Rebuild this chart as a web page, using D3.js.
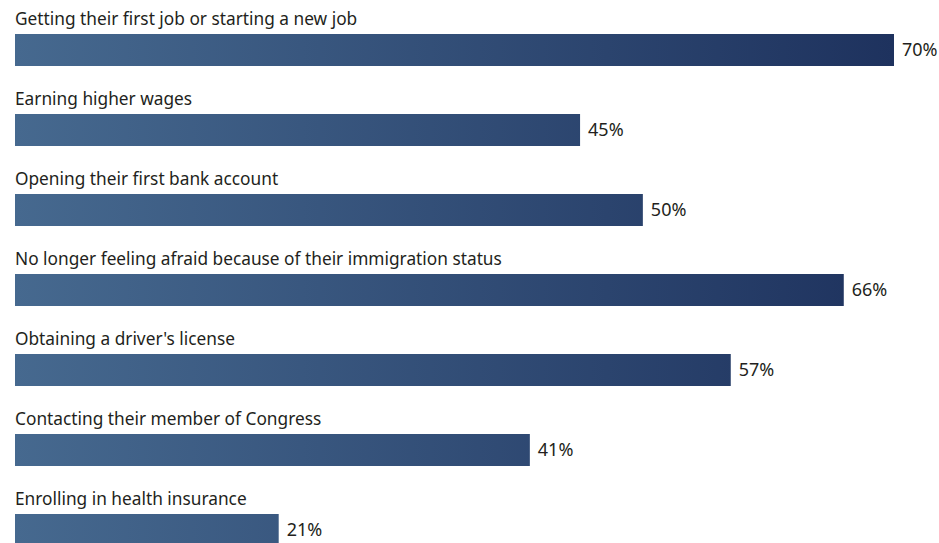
<!DOCTYPE html>
<html>
<head>
<meta charset="utf-8">
<script src="https://cdn.jsdelivr.net/npm/d3@7"></script>
<style>
  body { margin: 0; background: #fff; }
  svg text { font-family: "Noto Sans", sans-serif; fill: #231f20; }
</style>
</head>
<body>
<div id="canvas"></div>
<script>
var categories = [
  "Getting their first job or starting a new job",
  "Earning higher wages",
  "Opening their first bank account",
  "No longer feeling afraid because of their immigration status",
  "Obtaining a driver's license",
  "Contacting their member of Congress",
  "Enrolling in health insurance"
];
var values = [70, 45, 50, 66, 57, 41, 21];

var width = 939;
var height = 543;

var svg = d3.select("#canvas").append("svg")
  .attr("width", width)
  .attr("height", height);

// x scale: 0 at left edge of bars, 70 at right end of first bar
var x = d3.scaleLinear().domain([0, 70]).range([15, 894]);
// each row is 80px tall, bar sits 34px below the row top
var y = d3.scaleBand().domain(categories).range([0, 560]).paddingInner(0).paddingOuter(0);

var grad = svg.append("defs").append("linearGradient")
  .attr("id", "barGrad")
  .attr("gradientUnits", "userSpaceOnUse")
  .attr("x1", x(0)).attr("x2", x(70))
  .attr("y1", 0).attr("y2", 0);
grad.append("stop").attr("offset", "0%").attr("stop-color", "#46698f");
grad.append("stop").attr("offset", "100%").attr("stop-color", "#1e325e");

var rows = svg.selectAll("g.row")
  .data(categories)
  .enter().append("g")
  .attr("class", "row")
  .attr("transform", function(d) { return "translate(0," + y(d) + ")"; });

rows.append("text")
  .attr("x", 15)
  .attr("y", 25)
  .style("font-size", "17.3px")
  .text(function(d) { return d; });

rows.append("rect")
  .attr("x", x(0))
  .attr("y", 34)
  .attr("height", 32)
  .attr("width", function(d, i) { return x(values[i]) - x(0); })
  .attr("fill", "url(#barGrad)");

rows.append("text")
  .attr("x", function(d, i) { return x(values[i]) + 8; })
  .attr("y", 50)
  .attr("dy", "0.35em")
  .style("font-size", "18px")
  .text(function(d, i) { return values[i] + "%"; });
</script>
</body>
</html>
